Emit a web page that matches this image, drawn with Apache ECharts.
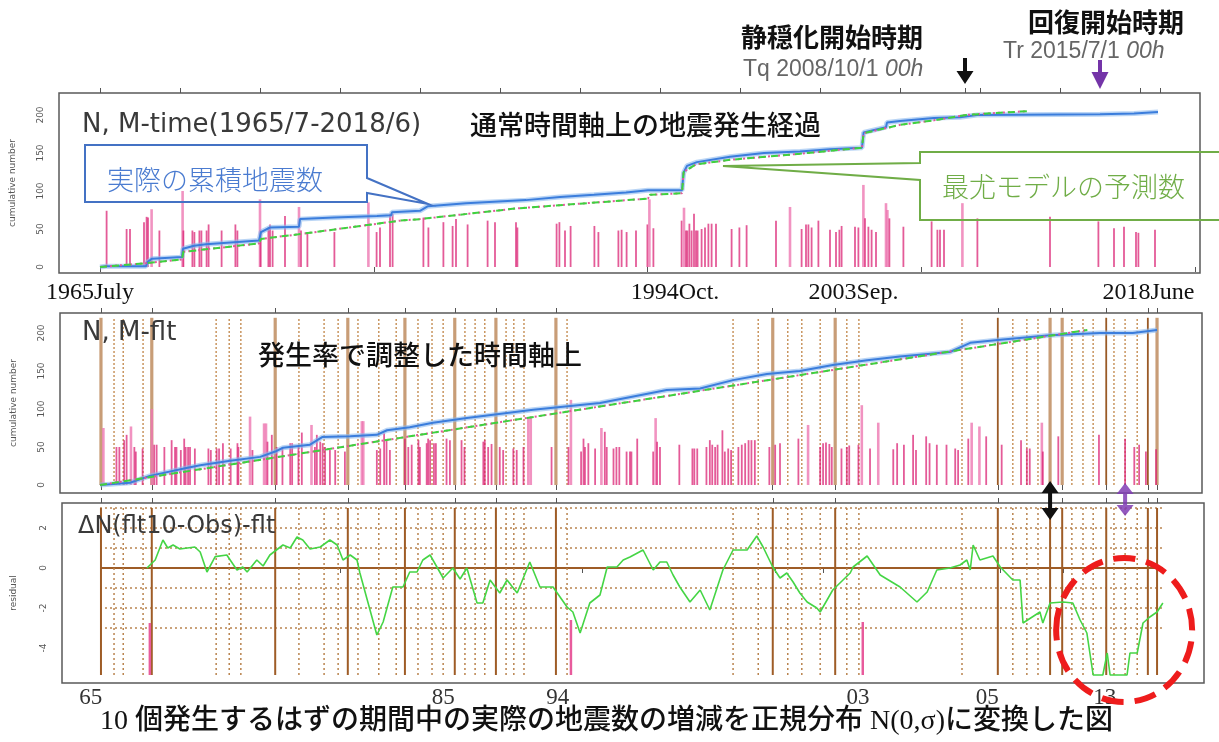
<!DOCTYPE html>
<html>
<head>
<meta charset="utf-8">
<script src="https://cdn.jsdelivr.net/npm/echarts@6/dist/echarts.min.js"></script>
<style>
  html, body { margin: 0; padding: 0; background: #fff; }
  #chart { width: 1219px; height: 742px; }
</style>
</head>
<body>
<div id="chart"></div>
<script>
// ---- Observed cumulative count on the ordinary time axis (year, count) ----
const obsCumTime = [[1965.5,0],[1965.8,1],[1967.8,1],[1967.85,6],[1968.1,11],[1969.6,13],[1969.65,24],[1970.2,28],[1970.8,30],[1973.45,35],[1973.55,46],[1974.0,52],[1975.45,53],[1975.5,63],[1977.2,65],[1979.35,67],[1980.05,68],[1980.1,72],[1981.5,74],[1981.9,80],[1983.8,84],[1986.8,88],[1988.5,92],[1990.2,95],[1991.8,98],[1992.9,101],[1994.6,101],[1994.68,124],[1994.85,133],[1995.35,138],[1997.0,145],[1998.7,150],[2000.5,152],[2002.0,155],[2003.6,157],[2003.68,177],[2004.8,184],[2004.85,190],[2005.5,192],[2007.2,196],[2008.5,197],[2009.35,200],[2015.5,201],[2017.2,202],[2018.4,204]];

// ---- Maximum-likelihood model: expected cumulative count (year, count) ----
const modelCumTime = [[1965.5,0],[1967.8,5],[1969.6,10],[1969.67,20],[1973.45,31],[1973.55,37],[1975.42,43],[1975.5,45],[1980.5,61],[1981.5,63],[1986.3,77],[1992.9,90],[1993.0,95],[1994.6,97],[1994.68,125],[1995.3,135],[1997.0,141],[2000.5,149],[2003.6,157],[2003.68,176],[2005.5,187],[2007.2,193],[2008.8,200],[2010.5,203],[2011.85,205]];

// ---- Events on the ordinary time axis (year, magnitude bar height) ----
const quakesTime = [[1965.83,74],[1966.83,50],[1967.0,50],[1967.7,59],[1967.83,66],[1967.9,65],[1968.08,76],[1968.47,48],[1969.63,100],[1969.67,48],[1970.12,48],[1970.22,46],[1970.47,48],[1970.57,48],[1970.83,48],[1970.93,56],[1971.58,48],[1972.27,56],[1972.37,48],[1973.5,89],[1973.53,48],[1973.92,52],[1974.0,56],[1974.13,48],[1974.75,67],[1975.45,79],[1975.55,48],[1975.87,46],[1977.22,46],[1978.92,85],[1979.33,46],[1979.5,52],[1980.0,70],[1980.13,70],
[1981.67,65],[1981.92,52],[1982.67,59],[1983.13,54],[1983.3,63],[1983.88,56],[1984.88,61],[1985.25,59],[1986.3,59],[1986.37,52],[1988.33,57],[1988.47,59],[1988.75,48],[1989.03,54],[1990.22,54],[1990.42,46],[1991.42,48],[1991.58,49],[1991.83,46],[1992.3,48],[1992.87,56],[1992.97,89],[1993.17,51],[1994.58,61],[1994.7,78],[1994.8,48],[1994.87,48],[1994.97,57],[1995.08,48],[1995.2,70],[1995.3,48],[1995.38,48],[1995.58,50],[1995.75,52],[1995.92,57],[1996.08,57],[1996.3,57],[1997.08,50],[1997.47,52],[1997.83,55],[1999.3,61],[2000.0,79],[2000.58,50],[2000.8,56],[2000.92,56],[2001.08,52],[2001.42,61],
[2002.0,49],[2002.3,46],[2002.47,49],[2002.58,54],[2003.25,53],[2003.42,52],[2003.67,108],[2003.75,64],[2003.92,53],[2004.08,49],[2004.3,46],[2004.8,84],[2004.87,75],[2004.97,64],[2005.67,53],[2007.08,60],[2007.37,49],[2007.5,49],[2007.7,49],[2008.62,84],[2009.37,64],[2013.0,66],[2015.42,60],[2016.2,51],[2016.7,53],[2017.3,46],[2017.42,45],[2018.25,49]];

// ---- Observed cumulative count on the transformed (rate-adjusted) axis ----
const obsCumFlt = [[0,0],[6.2,3],[10.3,12],[17.6,22],[20.7,26],[26.9,32],[33.1,37],[36.2,44],[37.8,49],[43.4,53],[45.9,63],[51.7,64],[57.2,66],[59.3,72],[64.0,76],[68.8,82],[75.8,88],[89.5,99],[103.3,108],[117.1,125],[124.0,127],[130.8,138],[137.8,146],[144.6,150],[151.4,158],[158.5,164],[165.3,169],[175.6,175],[179.8,187],[186.0,191],[196.3,197],[206.6,200],[213.4,200],[218.4,204]];

// ---- Model on the transformed axis ----
const modelCumFlt = [[0,0],[204,204]];

// ---- Events on the transformed axis (tau, magnitude bar height) ----
const quakesFlt = [[0.7,75],[3.4,50],[4.0,50],[5.0,59],[5.5,66],[6.4,77],[7.1,50],[7.4,44],[8.8,48],[10.7,100],[11.2,53],[11.7,53],[13.3,50],[14.8,59],[15.5,50],[15.8,50],[16.7,46],[17.4,61],[17.7,50],[18.2,50],[18.6,50],[19.6,48],[22.4,48],[22.9,46],[24.1,48],[24.6,48],[25.4,55],[27.0,48],[28.4,55],[28.6,50],[31.0,90],[31.5,46],[33.9,81],[34.3,81],[34.6,57],[35.5,66],[36.5,50],[37.7,50],[39.3,55],[39.7,55],[41.0,50],[41.7,69],[43.7,79],[44.4,50],[44.8,66],[45.5,57],[46.0,55],[46.5,50],[47.5,46],[48.6,46],[50.6,44],[54.1,84],[54.4,84],[57.2,46],[57.9,48],[58.7,68],[59.2,59],[59.9,46],
[63.0,61],[63.7,50],[64.4,53],[65.8,59],[66.1,50],[67.5,55],[67.8,61],[68.2,59],[69.0,55],[69.4,55],[71.6,61],[72.3,59],[74.7,59],[75.3,50],[79.2,57],[79.5,59],[80.2,50],[80.9,54],[82.6,50],[83.3,46],[85.4,48],[86.1,46],[87.5,50],[88.5,88],[89.0,88],[93.3,50],[96.8,50],[97.3,112],[99.4,44],[99.9,61],[100.2,50],[100.9,55],[102.3,48],[103.6,75],[104.3,70],[104.7,50],[106.1,48],[106.7,50],[107.3,50],[108.8,44],[109.5,44],[109.8,44],[111.0,61],[114.3,44],[114.8,88],[115.1,57],[115.7,50],[119.7,53],[122.4,48],[122.8,48],[123.4,48],[125.3,50],[126.0,59],[126.5,53],[127.1,50],[127.6,53],[128.6,72],[129.1,44],[129.8,48],[130.4,46],[131.9,50],[132.6,53],[133.3,55],[134.0,59],[134.6,59],[135.3,59],[138.3,50],[139.5,53],[140.5,55],[144.3,61],
[146.3,79],[148.8,50],[149.4,55],[150.0,56],[150.7,54],[151.2,50],[153.2,48],[154.3,50],[154.8,52],[156.7,53],[157.4,105],[159.1,48],[160.8,82],[163.9,47],[164.7,55],[166.1,53],[168.0,66],[168.6,46],[170.7,64],[171.4,55],[172.9,53],[174.9,53],[176.7,48],[177.3,46],[179.4,61],[180.1,82],[181.7,77],[183.1,64],[186.3,53],[190.3,59],[191.5,48],[192.1,48],[194.6,82],[194.8,44],[198.0,64],[206.4,66],[211.8,61],[213.7,50],[214.7,53],[216.1,44],[218.2,47]];

// ---- Residual (normalised deviation per 10 expected events) on the transformed axis ----
const residualFlt = [[9.7,0],[11.4,0.4],[13.0,1.4],[14.0,1.0],[15.1,1.15],[16.5,0.95],[19.6,1.05],[20.7,0.8],[22.1,-0.2],[23.8,0.57],[26.2,0.65],[28.3,-0.1],[29.5,0.05],[30.4,-0.2],[32.4,0.4],[33.7,0.1],[35.1,0.65],[37.8,1.15],[39.3,1.0],[40.7,1.55],[41.9,1.4],[43.4,0.95],[45.5,1.05],[47.5,1.4],[49.0,1.15],[50.2,0.4],[51.7,0.65],[53.1,0.4],[53.7,-0.25],[57.2,-3.35],[58.5,-2.7],[60.5,-0.95],[62.6,-0.95],[64.0,-0.2],[65.5,-0.2],[66.7,0.4],[68.2,0.65],[70.9,-0.5],[72.9,0],[74.4,-0.55],[75.8,0],[77.9,-1.75],[79.1,-1.75],[80.6,-0.6],[82.6,-1.25],[84.1,-0.6],[86.2,-1.25],[88.8,0.3],[90.9,-0.95],[93.6,-0.95],[96.5,-1.95],[97.7,-2.2],[99.2,-3.25],[101.2,-1.75],[103.3,-1.35],[104.8,0.05],[106.8,0.05],[108.1,0.4],[109.5,0.55],[112.2,0.9],[114.3,-0.1],[115.7,0.3],[117.1,0.3],[118.4,-0.35],[119.8,-0.95],[121.9,-1.7],[124.0,-1.1],[126.0,-2.1],[128.7,-0.1],[130.8,0.9],[133.7,0.9],[135.7,1.6],[137.0,1.05],[139.0,0.05],[140.5,-0.5],[141.9,-0.25],[143.2,-0.7],[144.6,-1.25],[146.1,-1.7],[148.1,-2.0],[148.8,-2.2],[151.4,-1.1],[155.0,-0.25],[155.6,0.05],[158.5,0.6],[161.2,-0.35],[165.3,-0.95],[168.8,-1.7],[170.9,-1.2],[172.9,-0.1],[175.6,0],[177.7,0.15],[179.1,0.4],[179.8,-0.1],[180.4,1.15],[181.8,0.4],[184.5,0.6],[186.0,0.05],[188.6,-0.6],[190.1,-0.6],[190.7,-2.75],[194.2,-2.2],[194.8,-2.75],[196.3,-1.75],[199.0,-1.7],[201.0,-1.75],[202.5,-2.6],[203.9,-3.25],[205.2,-5.35],[207.2,-5.35],[208.1,-4.25],[208.7,-5.35],[212.2,-5.35],[212.8,-4.25],[214.3,-4.25],[215.5,-2.75],[216.9,-2.45],[218.4,-2.2],[219.6,-1.75]];

// ---- Large events shown in the residual panel (tau, top of bar) ----
const residualLargeEvents = [[10.3,-2.75],[97.3,-2.6],[157.6,-2.7]];
const residualFloor = -5.35;

// ---- Reference levels of the residual panel ----
const residualZero = 0;
const residualLevels = [-3,-2,-1,1,2,3];
const residualSpan = [0, 219.6];

// ---- Vertical reference lines on the transformed axis ----
const solidTauWide = [0.2,10.7,36.2,51.2,63.0,73.3,81.8,94.2,139.0,151.9,196.3,198.8,218.4];
const solidTauThin = [185.5,207.9,216.5];
const dottedTau = [2.9,4.8,8.9,24.0,26.7,29.1,41.1,46.3,49.2,53.3,57.6,61.2,65.7,68.6,70.9,75.4,77.5,79.5,83.9,85.5,87.6,96.5,130.8,136.0,142.1,145.0,148.8,154.3,156.8,178.1,188.6,191.5,193.8,200.8,203.1,205.2,209.5,211.8,214.3];

// ---- Key dates ----
const tqYear = 2008.75, trYear = 2015.5;   // quiescence start, recovery start
const tqTau = 196.3, trTau = 211.8;

// ---- Axis ticks and labels ----
const timeTopTicks = [1965.5,1969.5,1973.5,1977.5,1981.5,1985.5,1989.5,1993.5,1997.5,2001.5,2005.5,2008.75,2009.5,2013.5,2017.5,2018.5];
const timeBottomTicks = [1965.5,1979.19,1992.88,2006.57,2020.26];
const timeLabelPos = [1965.5,1994.75,2003.67,2018.42];
const timeLabelText = ['1965July','1994Oct.','2003Sep.','2018June'];
const fltLabelPos = [-1.9,70.9,94.6,156.6,183.3,207.6];
const fltLabelText = ['65','85','94','03','05','13'];
const residualBottomTicks = [0,49.6,99.6,139.5,149.4,186.0,199.0,219.4];
const cumTicks = [0,50,100,150,200];
const residualTicks = [-4,-2,0,2];

// ---------------------------------------------------------------------------
const chart = echarts.init(document.getElementById('chart'), null, { renderer: 'canvas' });

function pick(posArr, textArr) {
  return function (v) {
    let best = 0, d = Infinity;
    posArr.forEach((p, i) => { const e = Math.abs(p - v); if (e < d) { d = e; best = i; } });
    return textArr[best];
  };
}

// vertical segments between two data levels at each x
function vSegments(xi, yi, xs, y0, y1, color, width, dash, z) {
  return {
    type: 'custom', xAxisIndex: xi, yAxisIndex: yi, z: z, silent: true, clip: false,
    data: xs.map(v => [v, y0]),
    renderItem: (params, api) => {
      const x = api.value(0);
      const a = api.coord([x, y0]), b = api.coord([x, y1]);
      return { type: 'line', shape: { x1: a[0], y1: a[1], x2: b[0], y2: b[1] },
               style: { stroke: color, lineWidth: width, lineDash: dash || null } };
    }
  };
}

// magnitude bars standing on zero
function quakeBars(xi, yi, data, z) {
  return {
    type: 'custom', xAxisIndex: xi, yAxisIndex: yi, z: z, silent: true,
    data: data,
    renderItem: (params, api) => {
      const x = api.value(0), h = api.value(1);
      const a = api.coord([x, 0]), b = api.coord([x, h]);
      const tall = h >= 75;
      return { type: 'line', shape: { x1: a[0], y1: a[1], x2: b[0], y2: b[1] },
               style: { stroke: tall ? 'rgba(238,120,178,0.8)' : 'rgba(218,28,112,0.72)', lineWidth: tall ? 2.6 : 1.8 } };
    }
  };
}

function hLevels(xi, yi, levels, color, width, dash, z) {
  return {
    type: 'custom', xAxisIndex: xi, yAxisIndex: yi, z: z, silent: true, clip: false,
    data: levels.map(l => [residualSpan[0], l]),
    renderItem: (params, api) => {
      const l = api.value(1);
      const a = api.coord([residualSpan[0], l]), b = api.coord([residualSpan[1], l]);
      return { type: 'line', shape: { x1: a[0], y1: a[1], x2: b[0], y2: b[1] },
               style: { stroke: color, lineWidth: width, lineDash: dash || null } };
    }
  };
}

function lowerBars(xi, yi, data, z) {
  return {
    type: 'custom', xAxisIndex: xi, yAxisIndex: yi, z: z, silent: true,
    data: data,
    renderItem: (params, api) => {
      const x = api.value(0), t = api.value(1);
      const a = api.coord([x, residualFloor]), b = api.coord([x, t]);
      return { type: 'line', shape: { x1: a[0], y1: a[1], x2: b[0], y2: b[1] },
               style: { stroke: '#e85b9c', lineWidth: 2.5 } };
    }
  };
}

const tickStyle = { color: '#555', width: 1 };
const yLabel = { rotate: 90, fontSize: 9, color: '#555', fontFamily: 'DejaVu Sans', margin: 14 };
const yName = { fontSize: 9, color: '#555', fontFamily: 'DejaVu Sans' };
const frame = { show: true, borderColor: '#5a5a5a', borderWidth: 1.5, backgroundColor: 'rgba(0,0,0,0)' };

function xAx(grid, min, max, pos, ticks, labelCfg) {
  return {
    gridIndex: grid, type: 'value', min: min, max: max, position: pos,
    axisLine: { show: false }, splitLine: { show: false },
    axisTick: { show: true, customValues: ticks, length: 5, inside: false, lineStyle: tickStyle },
    axisLabel: labelCfg || { show: false }
  };
}

const option = {
  animation: false,
  backgroundColor: '#fff',
  grid: [
    Object.assign({ left: 59, top: 93, width: 1141, height: 180 }, frame),
    Object.assign({ left: 60, top: 313, width: 1142, height: 180 }, frame),
    Object.assign({ left: 62, top: 503, width: 1142, height: 180 }, frame)
  ],
  xAxis: [
    xAx(0, 1963.45, 2020.5, 'bottom', timeBottomTicks, {
      show: true, customValues: timeLabelPos, formatter: pick(timeLabelPos, timeLabelText),
      fontFamily: 'Liberation Serif', fontSize: 24, color: '#111', margin: 8, padding: [0, 20, 0, 0]
    }),
    xAx(0, 1963.45, 2020.5, 'top', timeTopTicks),
    xAx(1, -8.264, 227.69, 'bottom', solidTauWide.concat(solidTauThin)),
    xAx(1, -8.264, 227.69, 'top', solidTauWide.concat(solidTauThin)),
    xAx(2, -7.851, 228.1, 'bottom', residualBottomTicks, {
      show: true, customValues: fltLabelPos, formatter: pick(fltLabelPos, fltLabelText),
      fontFamily: 'Liberation Serif', fontSize: 23, color: '#333', margin: 3
    }),
    xAx(2, -7.851, 228.1, 'top', solidTauWide.concat(solidTauThin))
  ],
  yAxis: [
    { gridIndex: 0, type: 'value', min: -7.89, max: 228.95, axisLine: { show: false }, splitLine: { show: false },
      axisTick: { show: false }, axisLabel: Object.assign({ customValues: cumTicks }, yLabel),
      name: 'cumulative number', nameLocation: 'middle', nameGap: 42, nameRotate: 90, nameTextStyle: yName },
    { gridIndex: 1, type: 'value', min: -10.53, max: 226.3, axisLine: { show: false }, splitLine: { show: false },
      axisTick: { show: false }, axisLabel: Object.assign({ customValues: cumTicks }, yLabel),
      name: 'cumulative number', nameLocation: 'middle', nameGap: 42, nameRotate: 90, nameTextStyle: yName },
    { gridIndex: 2, type: 'value', min: -5.75, max: 3.25, axisLine: { show: false }, splitLine: { show: false },
      axisTick: { show: false }, axisLabel: Object.assign({ customValues: residualTicks }, yLabel),
      name: 'residual', nameLocation: 'middle', nameGap: 44, nameRotate: 90, nameTextStyle: yName }
  ],
  series: [
    // ---- panel 1: ordinary time ----
    quakeBars(0, 0, quakesTime, 2),
    { type: 'line', xAxisIndex: 0, yAxisIndex: 0, data: obsCumTime, showSymbol: false, z: 3, silent: true,
      lineStyle: { color: 'rgba(140,185,238,0.6)', width: 5 } },
    { type: 'line', xAxisIndex: 0, yAxisIndex: 0, data: obsCumTime, showSymbol: false, z: 4, silent: true,
      lineStyle: { color: '#3b7ddc', width: 2 } },
    { type: 'line', xAxisIndex: 0, yAxisIndex: 0, data: modelCumTime, showSymbol: false, z: 4, silent: true,
      lineStyle: { color: '#e2589a', width: 2, type: [2, 3] } },
    { type: 'line', xAxisIndex: 0, yAxisIndex: 0, data: modelCumTime, showSymbol: false, z: 5, silent: true,
      lineStyle: { color: '#3fd23f', width: 2, type: [7, 5] } },

    // ---- panel 2: rate-adjusted time ----
    vSegments(2, 1, dottedTau, 0, 220, '#c9955f', 1.5, [2, 2], 1),
    vSegments(2, 1, solidTauWide, 0, 220, 'rgba(190,140,95,0.85)', 3.2, null, 1),
    vSegments(2, 1, solidTauThin, 0, 220, '#9a5a26', 1.8, null, 1),
    quakeBars(2, 1, quakesFlt, 2),
    { type: 'line', xAxisIndex: 2, yAxisIndex: 1, data: obsCumFlt, showSymbol: false, z: 3, silent: true,
      lineStyle: { color: 'rgba(140,185,238,0.6)', width: 5 } },
    { type: 'line', xAxisIndex: 2, yAxisIndex: 1, data: obsCumFlt, showSymbol: false, z: 4, silent: true,
      lineStyle: { color: '#3b7ddc', width: 2 } },
    { type: 'line', xAxisIndex: 2, yAxisIndex: 1, data: modelCumFlt, showSymbol: false, z: 4, silent: true,
      lineStyle: { color: '#e2589a', width: 2, type: [2, 3] } },
    { type: 'line', xAxisIndex: 2, yAxisIndex: 1, data: modelCumFlt, showSymbol: false, z: 5, silent: true,
      lineStyle: { color: '#3fd23f', width: 2, type: [7, 5] } },

    // ---- panel 3: residual ----
    hLevels(4, 2, residualLevels, '#b9844f', 1.5, [2, 3], 1),
    hLevels(4, 2, [residualZero], '#9e5c26', 2, null, 1),
    vSegments(4, 2, dottedTau, residualFloor, 3, '#b9844f', 1.5, [2, 3], 1),
    vSegments(4, 2, solidTauWide.concat(solidTauThin), residualFloor, 3, '#9e5c26', 2, null, 1),
    lowerBars(4, 2, residualLargeEvents, 2),
    { type: 'line', xAxisIndex: 4, yAxisIndex: 2, data: residualFlt, showSymbol: false, z: 4, silent: true,
      lineStyle: { color: '#45d545', width: 1.6 } }
  ]
};

chart.setOption(option);

// ---------------------------------------------------------------------------
// annotations (texts, callouts, arrows); arrows are placed from axis values
const px = (axisIdx, v) => chart.convertToPixel({ xAxisIndex: axisIdx }, v);
const pxy = (axisIdx, yIdx, v) => chart.convertToPixel({ xAxisIndex: axisIdx, yAxisIndex: yIdx }, v);

function downArrow(x, yTop, yHead, yTip, halfW, shaftW, color) {
  const s = shaftW / 2;
  return { type: 'polygon', z: 100, shape: { points: [
    [x - s, yTop], [x + s, yTop], [x + s, yHead], [x + halfW, yHead], [x, yTip], [x - halfW, yHead], [x - s, yHead]
  ] }, style: { fill: color } };
}
function doubleArrow(x, yA, yB, head, halfW, shaftW, color) {
  const s = shaftW / 2;
  return { type: 'polygon', z: 100, shape: { points: [
    [x, yA], [x + halfW, yA + head], [x + s, yA + head], [x + s, yB - head], [x + halfW, yB - head], [x, yB],
    [x - halfW, yB - head], [x - s, yB - head], [x - s, yA + head], [x - halfW, yA + head]
  ] }, style: { fill: color } };
}
function txt(x, y, text, font, fill, extra) {
  return { type: 'text', z: 100, style: Object.assign({ x: x, y: y, text: text, font: font, fill: fill,
    align: 'left', verticalAlign: 'middle' }, extra || {}) };
}
function dateText(x, y, head) {
  return { type: 'text', z: 100, style: { x: x, y: y, verticalAlign: 'middle', fill: '#666',
      text: '{n|' + head + ' }{i|00h}',
      rich: { n: { fontFamily: 'Liberation Sans', fontSize: 23, fill: '#666', color: '#666' },
              i: { fontFamily: 'Liberation Sans', fontSize: 23, fontStyle: 'italic', fill: '#666', color: '#666' } } } };
}

const jp = '"Noto Sans CJK JP"';
const tqX = px(0, tqYear), trX = px(0, trYear);
const tqFltX = px(4, tqTau), trFltX = px(4, trTau);
const ring = pxy(4, 2, [211.6, -3.1]);

const graphic = [
  txt(741, 37, '静穏化開始時期', 'bold 26px ' + jp, '#111'),
  dateText(743, 70, 'Tq 2008/10/1'),
  txt(1028, 22, '回復開始時期', 'bold 26px ' + jp, '#111'),
  dateText(1003, 52, 'Tr 2015/7/1'),
  downArrow(tqX, 58, 71, 84, 8.5, 4, '#111'),
  downArrow(trX, 60, 72, 89, 8.5, 4, '#7434a8'),

  txt(82, 125, 'N, M-time(1965/7-2018/6)', '26px "DejaVu Sans"', '#3a3a3a'),
  txt(470, 125, '通常時間軸上の地震発生経過', '500 27px ' + jp, '#111'),

  // callout: observed cumulative count
  { type: 'polygon', z: 90, shape: { points: [[85,145],[367,145],[367,178],[428,204],[367,193],[367,202],[85,202]] },
    style: { fill: 'rgba(0,0,0,0)', stroke: '#4472c4', lineWidth: 2 } },
  txt(107, 180, '実際の累積地震数', '300 27px ' + jp, '#4a7bd0'),

  // callout: model prediction
  { type: 'polygon', z: 90, shape: { points: [[920,152],[1240,152],[1240,220],[920,220],[920,180],[723,166],[920,163]] },
    style: { fill: 'rgba(0,0,0,0)', stroke: '#70ad47', lineWidth: 2 } },
  txt(942, 187, '最尤モデルの予測数', '300 27px ' + jp, '#70ad47'),

  txt(82, 333, 'N, M-flt', '26px "DejaVu Sans"', '#3a3a3a'),
  txt(258, 355, '発生率で調整した時間軸上', '500 27px ' + jp, '#111'),

  doubleArrow(tqFltX, 481, 520, 12, 8.5, 4, '#111'),
  doubleArrow(trFltX, 483, 516, 11, 8.5, 4, 'rgba(128,60,180,0.85)'),

  txt(78, 527, 'ΔN(flt10-Obs)-flt', '24px "DejaVu Sans"', '#3a3a3a'),

  { type: 'ellipse', z: 95, shape: { cx: ring[0], cy: ring[1], rx: 68, ry: 72 },
    style: { fill: 'rgba(0,0,0,0)', stroke: '#ee1c1c', lineWidth: 6, lineDash: [22, 11] } },

  txt(100, 722, '10 個発生するはずの期間中の実際の地震数の増減を正規分布 N(0,σ)に変換した図',
      '500 28px "Liberation Serif", ' + jp, '#111')
];

chart.setOption({ graphic: graphic });
</script>
</body>
</html>
